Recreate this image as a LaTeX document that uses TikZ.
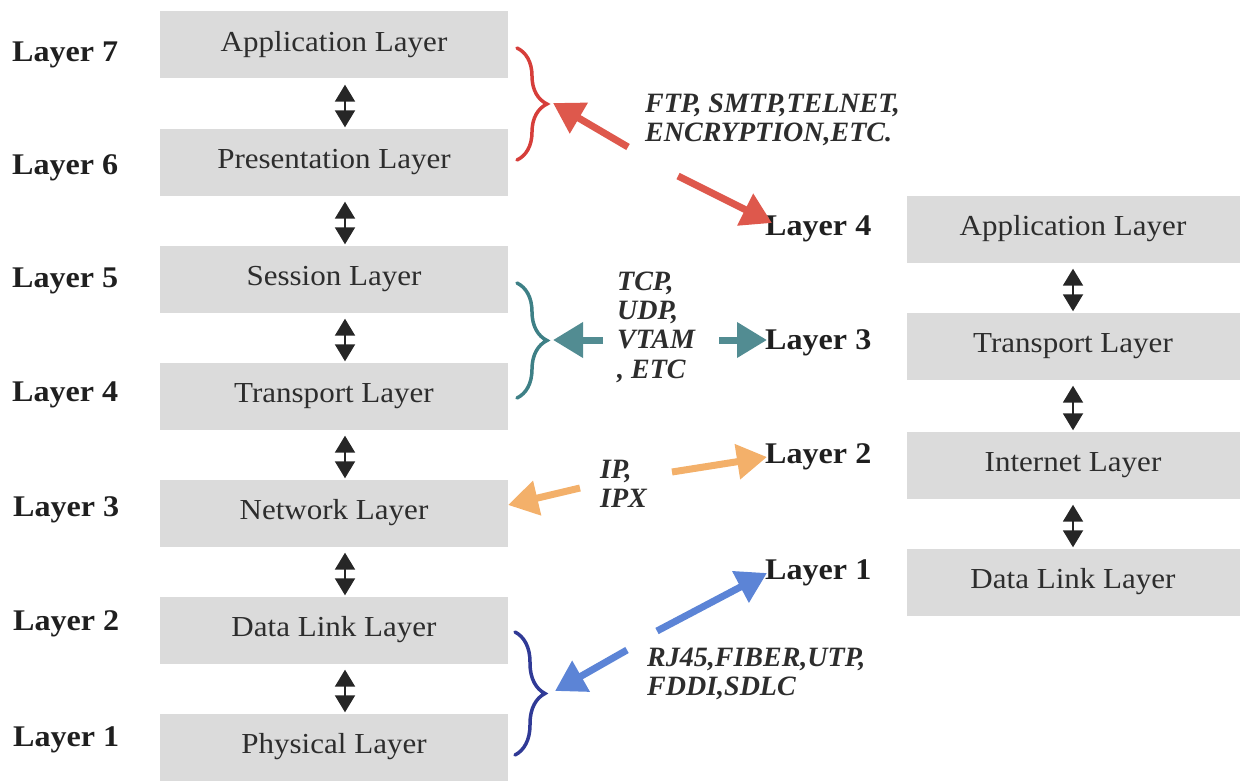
\documentclass[tikz,border=0pt]{standalone}
\usepackage{fontspec}
\usepackage{graphicx}
\setmainfont{Liberation Serif}
\usetikzlibrary{arrows.meta,decorations.pathreplacing}

\definecolor{boxgray}{RGB}{219,219,219}
\definecolor{ink}{RGB}{45,45,45}
\definecolor{redarrow}{RGB}{222,88,76}
\definecolor{redbrace}{RGB}{214,62,58}
\definecolor{tealarrow}{RGB}{82,140,146}
\definecolor{tealbrace}{RGB}{62,128,134}
\definecolor{orangearrow}{RGB}{243,176,106}
\definecolor{bluearrow}{RGB}{92,132,214}
\definecolor{bluebrace}{RGB}{48,58,150}

% slightly widened lettering
\newcommand{\wideword}[1]{\scalebox{1.07}[1]{#1}}

\tikzset{
  layerbox/.style={fill=boxgray, draw=none, minimum height=67pt, inner sep=0pt,
    text=ink, font=\fontsize{29}{34}\selectfont},
  leftbox/.style={layerbox, minimum width=348pt},
  rightbox/.style={layerbox, minimum width=333pt},
  layertag/.style={anchor=west, inner sep=0pt, text=black!88,
    font=\fontsize{30}{34}\selectfont\bfseries},
  protocols/.style={anchor=west, align=left, inner sep=0pt, text=ink,
    font=\fontsize{28}{29.3}\selectfont\bfseries\itshape},
  updown/.style={draw=black!85, line width=2pt,
    {Triangle[width=20pt,length=17pt]}-{Triangle[width=20pt,length=17pt]},
    shorten <=6pt, shorten >=1pt},
  fatarrow/.style={line width=7pt, -{Triangle[width=34pt,length=30pt]}},
  bracket/.style={decorate, decoration={brace, amplitude=30pt}, line width=3.5pt,
    line cap=round},
}

\begin{document}
\begin{tikzpicture}[x=1pt, y=-1pt]
\useasboundingbox (0,0) rectangle (1241,781);

% OSI stack
\node[leftbox] (app)  at (334,45)  {\wideword{Application Layer}};
\node[leftbox] (pres) at (334,162) {\wideword{Presentation Layer}};
\node[leftbox] (sess) at (334,279) {\wideword{Session Layer}};
\node[leftbox] (tran) at (334,396) {\wideword{Transport Layer}};
\node[leftbox] (net)  at (334,513) {\wideword{Network Layer}};
\node[leftbox] (dl)   at (334,630) {\wideword{Data Link Layer}};
\node[leftbox] (phy)  at (334,747) {\wideword{Physical Layer}};

\foreach \a/\b in {app/pres, pres/sess, sess/tran, tran/net, net/dl, dl/phy}
  \draw[updown] (\a.south -| 345,0) -- (\b.north -| 345,0);

\node[layertag] (l7) at (12,55)  {\wideword{Layer 7}};
\node[layertag] (l6) at (12,168) {\wideword{Layer 6}};
\node[layertag] (l5) at (12,281) {\wideword{Layer 5}};
\node[layertag] (l4) at (12,395) {\wideword{Layer 4}};
\node[layertag] (l3) at (13,510) {\wideword{Layer 3}};
\node[layertag] (l2) at (13,624) {\wideword{Layer 2}};
\node[layertag] (l1) at (13,740) {\wideword{Layer 1}};

% TCP/IP stack
\node[rightbox] (tapp) at (1073,229) {\wideword{Application Layer}};
\node[rightbox] (ttr)  at (1073,346) {\wideword{Transport Layer}};
\node[rightbox] (tin)  at (1073,465) {\wideword{Internet Layer}};
\node[rightbox] (tdl)  at (1073,582) {\wideword{Data Link Layer}};

\foreach \a/\b in {tapp/ttr, ttr/tin, tin/tdl}
  \draw[updown] (\a.south) -- (\b.north);

\node[layertag] (r4) at (765,229) {\wideword{Layer 4}};
\node[layertag] (r3) at (765,343) {\wideword{Layer 3}};
\node[layertag] (r2) at (765,457) {\wideword{Layer 2}};
\node[layertag] (r1) at (765,573) {\wideword{Layer 1}};

% protocol groups
\node[protocols] (papp) at (645,120) {FTP, SMTP,TELNET,\\ENCRYPTION,ETC.};
\node[protocols] (ptr)  at (617,327) {TCP,\\UDP,\\VTAM\\, ETC};
\node[protocols] (pnet) at (600,484) {IP,\\IPX};
\node[protocols] (pphy) at (647,674) {RJ45,FIBER,UTP,\\FDDI,SDLC};

% braces
\draw[bracket, redbrace]  (517,48)  -- (517,160);
\draw[bracket, tealbrace] (517,283) -- (517,398);
\draw[bracket, bluebrace] (515,632) -- (515,755);

% arrow end points
\coordinate (rbtip) at (553,103);
\coordinate (ra1)   at (628,147);
\coordinate (ra2)   at (678,176);
\coordinate (ra2e)  at (772,223);
\coordinate (tbtip) at (553,340);
\coordinate (ta1)   at (603,340);
\coordinate (ta2)   at (719,340);
\coordinate (ta2e)  at (767,340);
\coordinate (onet)  at (508,505);
\coordinate (oa1)   at (580,488);
\coordinate (oa2)   at (672,472);
\coordinate (oa2e)  at (767,457);
\coordinate (bbtip) at (555,691);
\coordinate (ba1)   at (627,650);
\coordinate (ba2)   at (657,631);
\coordinate (ba2e)  at (767,573);

\draw[fatarrow, redarrow]    (ra1) -- (rbtip);
\draw[fatarrow, redarrow]    (ra2) -- (ra2e);
\draw[fatarrow, tealarrow]   (ta1) -- (tbtip);
\draw[fatarrow, tealarrow]   (ta2) -- (ta2e);
\draw[fatarrow, orangearrow] (oa1) -- (onet);
\draw[fatarrow, orangearrow] (oa2) -- (oa2e);
\draw[fatarrow, bluearrow]   (ba1) -- (bbtip);
\draw[fatarrow, bluearrow]   (ba2) -- (ba2e);
\end{tikzpicture}
\end{document}
